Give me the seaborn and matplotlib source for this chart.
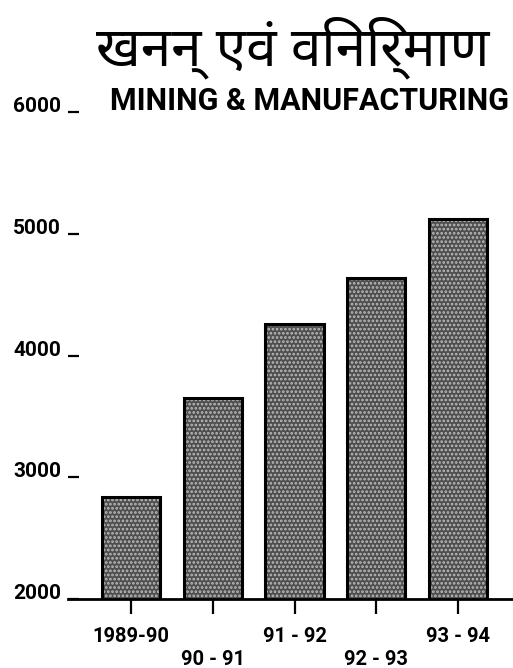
import matplotlib
matplotlib.use("Agg")
import matplotlib.pyplot as plt
from matplotlib import font_manager
from matplotlib.patches import Rectangle
import seaborn as sns
import pandas as pd

# Production index by year
years = ["1989-90", "90 - 91", "91 - 92", "92 - 93", "93 - 94"]
output = [2840, 3655, 4260, 4640, 5120]
y_ticks = [2000, 3000, 4000, 5000, 6000]
title_hi = "खनन् एवं विनिर्माण"
title_en = "MINING & MANUFACTURING"


def devanagari_family():
    """Pick an installed font that covers Devanagari, preferring sans faces."""
    try:
        from fontTools.ttLib import TTFont
    except Exception:
        return None
    found = []
    for f in font_manager.fontManager.ttflist:
        try:
            cmap = TTFont(f.fname, fontNumber=0, lazy=True).getBestCmap()
        except Exception:
            continue
        if cmap and 0x0916 in cmap and 0x0923 in cmap:
            found.append(f.name)
    if not found:
        return None
    preferred = ["Noto Sans Devanagari", "Lohit Devanagari", "Mukta",
                 "Hind", "Gargi", "Kalimati", "FreeSans",
                 "Noto Serif Devanagari", "FreeSerif"]
    for name in preferred:
        if name in found:
            return name
    for name in found:
        if "mono" not in name.lower():
            return name
    return found[0]


sns.set_theme(style="white")
plt.rcParams["font.family"] = ["Roboto", "DejaVu Sans"]
plt.rcParams["hatch.linewidth"] = 1.3

fig = plt.figure(figsize=(5.13, 6.68), dpi=100)
ax = fig.add_axes([68 / 513, 69 / 668, 445 / 513, 487 / 668])

df = pd.DataFrame({"year": years, "output": output})
sns.barplot(data=df, x="year", y="output", ax=ax, color="#4e4e4e",
            saturation=1, width=0.71, edgecolor="none")

# stippled fill plus a heavy black outline on every bar
for p in list(ax.patches):
    p.set_hatch("....")
    p.set_edgecolor("#bcbcbc")
    p.set_linewidth(0)
    ax.add_patch(Rectangle(p.get_xy(), p.get_width(), p.get_height(),
                           fill=False, edgecolor="black", linewidth=2.2,
                           zorder=p.get_zorder() + 0.1))

ax.set_ylim(2000, 6000)
ax.set_xlim(-0.771, 4.673)
ax.set_xlabel("")
ax.set_ylabel("")

for side in ("top", "right", "left"):
    ax.spines[side].set_visible(False)
ax.spines["bottom"].set_linewidth(2)
ax.spines["bottom"].set_color("black")

ax.set_yticks(y_ticks)
ax.set_yticklabels([str(v) for v in y_ticks])
ax.tick_params(axis="y", direction="in", length=8, width=1.6, pad=5,
               labelsize=15, colors="black", left=True)
for t in ax.yaxis.get_major_ticks():
    t.label1.set_verticalalignment("baseline")
    t.label1.set_fontweight("bold")

ax.set_xticks(range(len(years)))
ax.set_xticklabels([("\n" + y) if i % 2 else y for i, y in enumerate(years)],
                   linespacing=1.25)
ax.tick_params(axis="x", direction="out", length=11, width=1.6, pad=9,
               labelsize=14.5, colors="black", bottom=True)
for t in ax.xaxis.get_major_ticks():
    t.label1.set_fontweight("bold")

deva = devanagari_family()
hi_family = [deva, "DejaVu Sans"] if deva else ["DejaVu Sans"]
hi = fig.text(293 / 513, 1 - 48 / 668, title_hi, ha="center", va="center",
              fontsize=30, family=hi_family, color="black")
# fit the Hindi heading to its line width
renderer = fig.canvas.get_renderer()
w = hi.get_window_extent(renderer).width
if w > 0:
    hi.set_fontsize(30 * 393 / w)

fig.text(309 / 513, 1 - 101 / 668, title_en, ha="center", va="center",
         fontsize=22, fontweight="bold", color="black")

fig.savefig("out.png", dpi=100)
